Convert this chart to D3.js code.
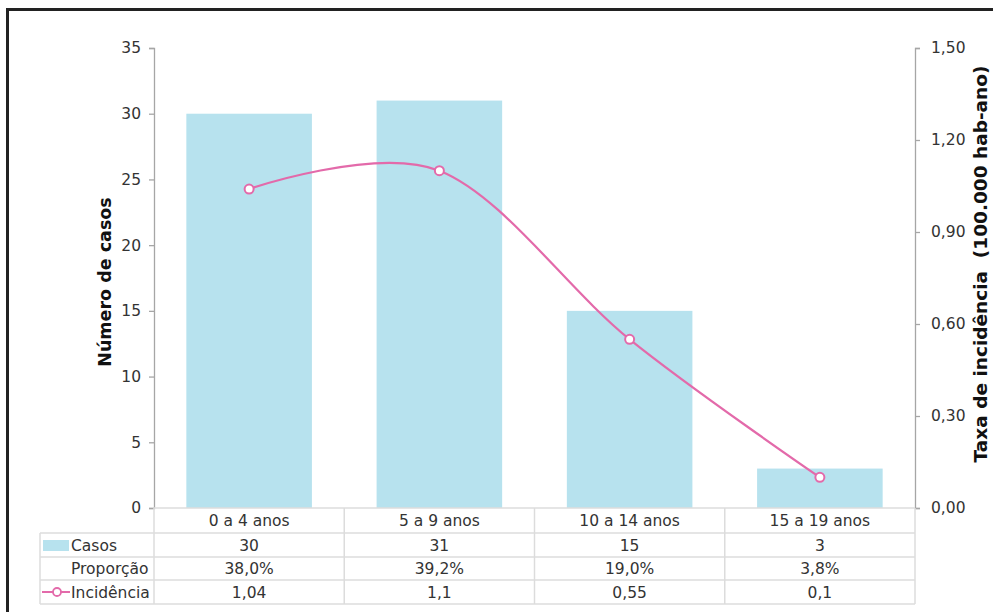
<!DOCTYPE html>
<html>
<head>
<meta charset="utf-8">
<script src="https://cdn.jsdelivr.net/npm/d3@7/dist/d3.min.js"></script>
<style>
  html, body { margin: 0; padding: 0; background: #fff; }
  svg { display: block; font-family: "DejaVu Sans", Verdana, sans-serif; }
</style>
</head>
<body>
<svg id="chart" width="993" height="612"></svg>
<script>
// Age groups and their figures
const categories = ["0 a 4 anos", "5 a 9 anos", "10 a 14 anos", "15 a 19 anos"];
const casos = [30, 31, 15, 3];
const proporcao = ["38,0%", "39,2%", "19,0%", "3,8%"];
const incidencia = [1.04, 1.1, 0.55, 0.1];
const leftTicks = [0, 5, 10, 15, 20, 25, 30, 35];
const rightTicks = [0, 0.3, 0.6, 0.9, 1.2, 1.5];

const svg = d3.select("#chart");
const W = 993, H = 612;
const plot = { left: 154, right: 915, top: 48, bottom: 508 };
const tableLeft = 40;
const rowEdges = [508, 533, 557, 580, 604];
const fontSize = 15.5;

const barColor = "#b7e2ee";
const lineColor = "#e36aaa";
const gridColor = "#dcdcdc";
const axisColor = "#a6a6a6";
const textColor = "#333";

// Frame
svg.append("path")
  .attr("d", `M7.5,${H} L7.5,9.5 L${W},9.5`)
  .attr("fill", "none").attr("stroke", "#222").attr("stroke-width", 3);

// Scales
const x = d3.scaleBand().domain(categories).range([plot.left, plot.right]).paddingInner(0.34).paddingOuter(0.17);
const xc = d3.scaleBand().domain(categories).range([plot.left, plot.right]);
const yL = d3.scaleLinear().domain([0, 35]).range([plot.bottom, plot.top]);
const yR = d3.scaleLinear().domain([0, 1.5]).range([plot.bottom, plot.top]);

// Bars
svg.append("g").selectAll("rect").data(categories).join("rect")
  .attr("x", d => x(d))
  .attr("y", (d, i) => yL(casos[i]))
  .attr("width", x.bandwidth())
  .attr("height", (d, i) => yL(0) - yL(casos[i]))
  .attr("fill", barColor);

// Axes
const fmtR = d3.format(".2f");
const axL = svg.append("g").attr("transform", `translate(${plot.left},0)`)
  .call(d3.axisLeft(yL).tickValues(leftTicks).tickSize(5).tickSizeOuter(5).tickPadding(8));
const axR = svg.append("g").attr("transform", `translate(${plot.right},0)`)
  .call(d3.axisRight(yR).tickValues(rightTicks).tickSize(5).tickSizeOuter(5).tickPadding(11)
    .tickFormat(d => fmtR(d).replace(".", ",")));
[axL, axR].forEach(ax => {
  ax.selectAll("path, line").attr("stroke", axisColor).attr("stroke-width", 1.3);
  ax.selectAll("text").attr("fill", textColor).attr("font-size", fontSize)
    .attr("font-family", "'DejaVu Sans', Verdana, sans-serif");
});

// Axis titles
svg.append("text")
  .attr("transform", `translate(111,${(plot.top + plot.bottom) / 2 + 4}) rotate(-90)`)
  .attr("text-anchor", "middle").attr("font-size", 17.5).attr("font-weight", "bold")
  .attr("fill", "#111").text("Número de casos");
svg.append("text")
  .attr("transform", `translate(987,264) rotate(-90)`)
  .attr("text-anchor", "middle").attr("font-size", 18.5).attr("font-weight", "bold")
  .attr("fill", "#111").attr("xml:space", "preserve").text("Taxa de incidência  (100.000 hab-ano)");

// Incidence line (smoothed)
const pts = categories.map((c, i) => [xc(c) + xc.bandwidth() / 2, yR(incidencia[i])]);
svg.append("path")
  .attr("d", d3.line().curve(d3.curveCardinal.tension(0))(pts))
  .attr("fill", "none").attr("stroke", lineColor).attr("stroke-width", 2.2);
svg.append("g").selectAll("circle").data(pts).join("circle")
  .attr("cx", d => d[0]).attr("cy", d => d[1]).attr("r", 4.5)
  .attr("fill", "#fff").attr("stroke", lineColor).attr("stroke-width", 2);

// Data table
const tbl = svg.append("g");
const colEdges = [plot.left].concat(categories.map(c => xc(c) + xc.bandwidth()));
tbl.append("line").attr("x1", plot.left).attr("x2", plot.right).attr("y1", rowEdges[0]).attr("y2", rowEdges[0])
  .attr("stroke", gridColor).attr("stroke-width", 1.5);
rowEdges.slice(1).forEach(y => {
  tbl.append("line").attr("x1", tableLeft).attr("x2", plot.right).attr("y1", y).attr("y2", y)
    .attr("stroke", gridColor).attr("stroke-width", 1.5);
});
tbl.append("line").attr("x1", tableLeft).attr("x2", tableLeft).attr("y1", rowEdges[1]).attr("y2", rowEdges[4])
  .attr("stroke", gridColor).attr("stroke-width", 1.5);
colEdges.forEach(xv => {
  tbl.append("line").attr("x1", xv).attr("x2", xv).attr("y1", rowEdges[0]).attr("y2", rowEdges[4])
    .attr("stroke", gridColor).attr("stroke-width", 1.5);
});

const cellText = (xv, row, txt, anchor) => tbl.append("text")
  .attr("x", xv).attr("y", (rowEdges[row] + rowEdges[row + 1]) / 2)
  .attr("dy", "0.36em").attr("text-anchor", anchor || "middle")
  .attr("font-size", fontSize).attr("fill", textColor).text(txt);

const cx = c => xc(c) + xc.bandwidth() / 2;
categories.forEach((c, i) => {
  cellText(cx(c), 0, c);
  cellText(cx(c), 1, String(casos[i]));
  cellText(cx(c), 2, proporcao[i]);
  cellText(cx(c), 3, String(incidencia[i]).replace(".", ","));
});

// Row headers with legend keys
cellText(71, 1, "Casos", "start");
cellText(71, 2, "Proporção", "start");
cellText(71, 3, "Incidência", "start");
tbl.append("rect").attr("x", 43).attr("y", 540).attr("width", 26).attr("height", 11).attr("fill", barColor);
tbl.append("line").attr("x1", 42).attr("x2", 70).attr("y1", 592).attr("y2", 592)
  .attr("stroke", lineColor).attr("stroke-width", 2);
tbl.append("circle").attr("cx", 57).attr("cy", 592).attr("r", 4)
  .attr("fill", "#fff").attr("stroke", lineColor).attr("stroke-width", 1.8);
</script>
</body>
</html>
